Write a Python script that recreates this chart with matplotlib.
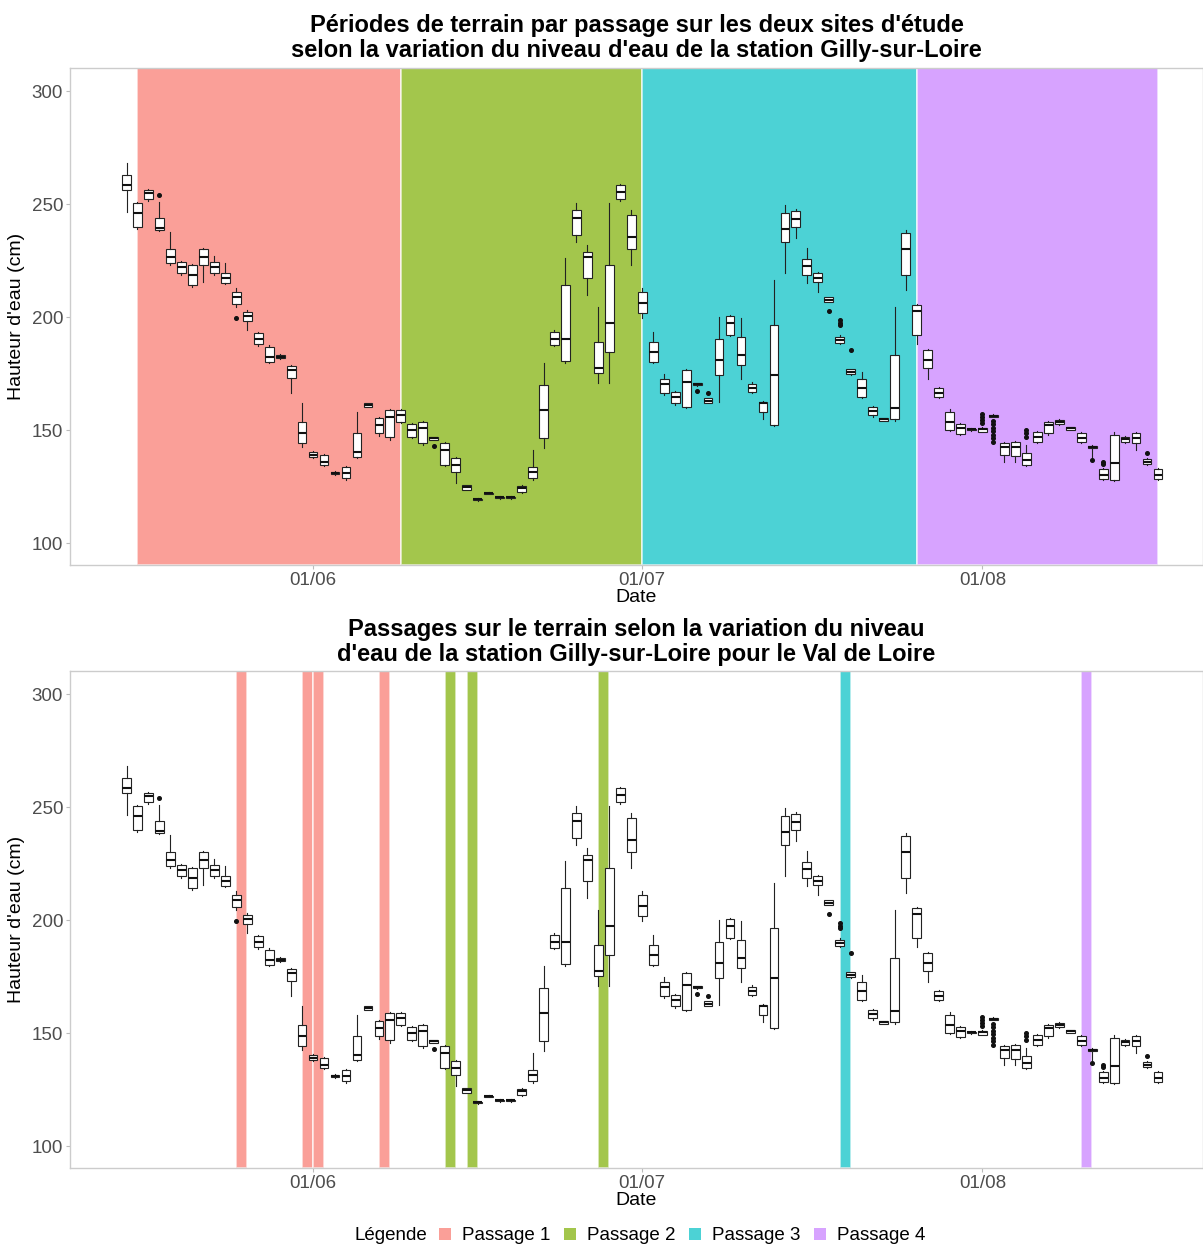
import pandas as pd
import matplotlib
matplotlib.use("Agg")
import matplotlib.pyplot as plt
import matplotlib.dates as mdates
from matplotlib.patches import Patch

plt.rcParams['font.family'] = ['Liberation Sans', 'DejaVu Sans']

# Hauteur d'eau journaliere (cm) a Gilly-sur-Loire, une boite par jour depuis le 15/05
first_day = "2021-05-15"

q1 = [256.2, 240.0, 252.1, 238.5, 223.8, 219.3, 214.2, 223.0, 219.6, 215.2,
      206.0, 198.4, 188.0, 180.2, 181.8, 172.9, 144.1, 137.9, 134.5, 130.5,
      128.6, 138.2, 160.3, 148.5, 147.0, 153.7, 147.0, 144.1, 145.8, 134.5,
      131.6, 123.7, 119.0, 121.7, 119.9, 119.9, 122.7, 128.6, 146.3, 187.6,
      180.7, 236.3, 217.1, 175.1, 184.7, 252.1, 229.9, 201.6, 180.2, 166.2,
      161.8, 160.3, 169.8, 162.1, 174.3, 192.0, 178.7, 167.0, 158.1, 152.2,
      233.3, 240.0, 218.6, 215.6, 206.8, 188.5, 174.8, 164.7, 156.6, 154.0,
      154.7, 218.6, 192.0, 177.3, 164.8, 150.0, 148.2, 150.0, 149.3, 156.0,
      138.9, 138.5, 134.5, 144.8, 148.5, 152.7, 150.2, 144.8, 142.2, 128.2,
      127.9, 144.8, 144.1, 135.0, 128.2]
med = [258.4, 245.9, 254.7, 239.5, 226.7, 222.0, 218.6, 226.4, 222.3, 217.1,
       209.0, 200.6, 190.3, 182.5, 182.5, 176.6, 148.5, 139.0, 136.0, 131.0,
       131.1, 140.4, 161.0, 152.2, 155.9, 156.6, 150.0, 150.7, 146.3, 141.2,
       134.5, 124.6, 119.3, 122.0, 120.2, 120.2, 124.2, 131.6, 158.9, 190.1,
       190.1, 243.7, 226.7, 177.3, 197.2, 255.5, 235.3, 206.3, 184.7, 170.6,
       164.7, 171.4, 170.3, 163.0, 181.0, 197.2, 183.2, 168.4, 161.8, 174.3,
       238.8, 243.2, 222.5, 217.5, 207.7, 190.0, 175.8, 168.4, 158.5, 154.7,
       159.9, 229.9, 202.6, 181.0, 166.5, 153.7, 150.7, 150.3, 150.3, 156.3,
       142.6, 142.6, 136.7, 147.0, 152.2, 153.5, 150.7, 146.3, 142.6, 130.1,
       135.3, 145.9, 146.3, 136.0, 130.1]
q3 = [262.8, 250.6, 256.2, 243.7, 229.9, 224.5, 223.0, 229.9, 224.5, 219.3,
      211.2, 202.4, 192.8, 186.9, 183.2, 178.3, 153.7, 140.4, 138.9, 131.5,
      133.8, 148.5, 161.8, 155.2, 158.9, 158.9, 152.7, 153.7, 146.8, 144.1,
      137.5, 125.5, 119.6, 122.3, 120.5, 120.5, 125.2, 133.8, 169.9, 193.5,
      214.2, 247.3, 228.9, 189.1, 223.0, 258.4, 245.1, 211.2, 189.1, 172.8,
      166.9, 176.5, 170.8, 164.0, 190.1, 200.4, 191.0, 170.6, 162.5, 196.4,
      245.9, 247.0, 225.5, 219.3, 208.7, 191.3, 176.8, 172.8, 160.3, 155.3,
      183.2, 237.0, 205.3, 185.4, 168.4, 158.1, 152.7, 150.6, 150.8, 156.8,
      144.1, 144.8, 139.7, 149.3, 153.7, 154.4, 151.2, 148.5, 143.0, 132.6,
      147.8, 147.0, 148.5, 137.0, 132.6]
whisk_lo = [246.6, 238.8, 251.5, 238.0, 223.0, 218.5, 213.4, 215.6, 218.8, 214.5,
            204.5, 194.2, 187.0, 179.5, 181.5, 166.2, 142.6, 137.5, 134.0, 130.2,
            128.0, 137.5, 160.0, 147.5, 145.6, 153.0, 146.3, 143.5, 145.5, 134.0,
            126.4, 123.4, 118.8, 121.5, 119.7, 119.7, 122.3, 128.0, 141.9, 187.0,
            179.5, 233.3, 209.7, 170.7, 170.7, 251.5, 223.0, 199.5, 179.5, 165.5,
            161.2, 159.8, 169.6, 161.9, 162.5, 191.5, 172.8, 166.5, 155.1, 151.8,
            219.3, 234.8, 215.0, 211.2, 206.5, 188.0, 174.5, 164.0, 156.0, 153.8,
            154.2, 212.0, 188.3, 172.8, 164.2, 149.5, 147.8, 149.8, 149.0, 155.8,
            136.0, 136.0, 134.0, 144.3, 148.0, 152.4, 150.0, 144.3, 138.0, 127.9,
            127.5, 144.5, 141.2, 134.5, 127.8]
whisk_hi = [268.0, 251.0, 256.5, 251.0, 237.8, 225.0, 223.5, 230.5, 227.0, 224.1,
            212.8, 203.0, 193.5, 187.5, 183.5, 179.0, 161.8, 140.8, 139.3, 131.8,
            134.2, 158.1, 162.1, 156.0, 159.5, 159.5, 153.2, 154.2, 147.0, 144.6,
            138.0, 125.8, 119.8, 122.5, 120.7, 120.7, 125.6, 141.2, 179.5, 194.2,
            226.0, 250.3, 231.9, 204.6, 250.3, 259.0, 247.3, 212.8, 193.5, 175.0,
            167.5, 177.2, 171.0, 164.2, 200.1, 201.0, 199.4, 171.2, 163.0, 216.4,
            249.5, 248.0, 230.4, 220.0, 209.0, 192.0, 177.2, 175.5, 160.8, 155.5,
            204.6, 238.5, 206.0, 186.0, 169.0, 159.5, 153.2, 150.8, 151.2, 157.0,
            144.6, 145.3, 143.5, 149.8, 154.2, 154.7, 151.4, 149.0, 143.2, 133.0,
            149.3, 147.5, 149.0, 137.5, 133.0]

# valeurs isolees (points) par jour
outliers = {
    "2021-05-18": [254.0],
    "2021-05-25": [199.8],
    "2021-06-12": [143.0],
    "2021-07-06": [167.4],
    "2021-07-07": [166.5],
    "2021-07-18": [202.8],
    "2021-07-19": [196.5, 197.5, 198.5],
    "2021-07-20": [185.4],
    "2021-08-01": [153.0, 154.5, 156.0, 157.0],
    "2021-08-02": [144.8, 146.5, 148.0, 149.5, 151.0, 152.5, 154.0],
    "2021-08-05": [147.0, 148.5, 150.0],
    "2021-08-11": [136.7],
    "2021-08-12": [135.2, 136.0],
    "2021-08-16": [139.7],
}

# periodes de terrain (debut, fin, passage)
period_start = ["2021-05-16", "2021-06-09", "2021-07-01", "2021-07-26"]
period_end = ["2021-06-09", "2021-07-01", "2021-07-26", "2021-08-17"]
period_passage = [1, 2, 3, 4]

# jours de passage sur le Val de Loire
visit_days = ["2021-05-25", "2021-05-31", "2021-06-01", "2021-06-07", "2021-06-13",
              "2021-06-15", "2021-06-27", "2021-07-19", "2021-08-10"]
visit_passage = [1, 1, 1, 1, 2, 2, 2, 3, 4]

passage_labels = ["Passage 1", "Passage 2", "Passage 3", "Passage 4"]
passage_colors = ["#F8766D", "#7CAE00", "#00BFC4", "#C77CFF"]
band_alpha = 0.7

W, H = 1203, 1248


def plotBoxes(ax):
    days = pd.date_range(first_day, periods=len(med), freq="D")
    stats = []
    for i, d in enumerate(days):
        stats.append(dict(med=med[i], q1=q1[i], q3=q3[i],
                          whislo=whisk_lo[i], whishi=whisk_hi[i],
                          fliers=outliers.get(d.strftime("%Y-%m-%d"), [])))
    ax.bxp(stats, positions=mdates.date2num(days), widths=0.8,
           patch_artist=True, showcaps=False, manage_ticks=False,
           boxprops=dict(facecolor="white", edgecolor="#222222", linewidth=0.8),
           medianprops=dict(color="#111111", linewidth=1.5),
           whiskerprops=dict(color="#222222", linewidth=0.8),
           flierprops=dict(marker="o", markersize=2.6, markerfacecolor="#111111",
                           markeredgecolor="#111111"),
           zorder=3)


def plotPeriods(ax):
    for s, e, p in zip(period_start, period_end, period_passage):
        x0 = mdates.date2num(pd.Timestamp(s))
        x1 = mdates.date2num(pd.Timestamp(e))
        ax.axvspan(x0, x1, color=passage_colors[p - 1], alpha=band_alpha,
                   ec="white", lw=1.2, zorder=1)


def plotVisits(ax):
    for d, p in zip(visit_days, visit_passage):
        x0 = mdates.date2num(pd.Timestamp(d))
        ax.axvspan(x0, x0 + 1, color=passage_colors[p - 1], alpha=band_alpha,
                   ec="white", lw=1.2, zorder=1)


def styleAxes(ax, title, title_pad):
    jun1 = mdates.date2num(pd.Timestamp("2021-06-01"))
    ax.set_xlim(jun1 - 22.15, jun1 + 81.1)
    ax.set_ylim(90.3, 310.2)
    ax.set_yticks([100, 150, 200, 250, 300])
    ax.set_xticks(mdates.date2num(pd.to_datetime(["2021-06-01", "2021-07-01", "2021-08-01"])))
    ax.xaxis.set_major_formatter(mdates.DateFormatter("%d/%m"))
    ax.set_xlabel("Date", fontsize=14, labelpad=0)
    ax.set_ylabel("Hauteur d'eau (cm)", fontsize=14, labelpad=5)
    ax.set_title(title, fontsize=17, fontweight="bold", pad=title_pad, linespacing=1.12)
    ax.tick_params(colors="#4D4D4D", labelsize=13.5, length=3, width=0.8,
                   color="#BBBBBB", pad=2)
    for sp in ax.spines.values():
        sp.set_color("#CCCCCC")
        sp.set_linewidth(1.0)


fig = plt.figure(figsize=(W / 100, H / 100), dpi=100)

top = fig.add_axes([70 / W, 1 - 565 / H, 1 - 70 / W, 497 / H])
plotPeriods(top)
plotBoxes(top)
styleAxes(top, "Périodes de terrain par passage sur les deux sites d'étude\n"
               "selon la variation du niveau d'eau de la station Gilly-sur-Loire", 8)

bottom = fig.add_axes([70 / W, 1 - 1168 / H, 1 - 70 / W, 497 / H])
plotVisits(bottom)
plotBoxes(bottom)
styleAxes(bottom, "Passages sur le terrain selon la variation du niveau\n"
                  "d'eau de la station Gilly-sur-Loire pour le Val de Loire", 7)

# legende commune en bas
fig.text(355 / W, 1 - 1236 / H, "Légende", fontsize=13.5, va="center", ha="left")
handles = [Patch(facecolor=c, alpha=band_alpha, edgecolor="none") for c in passage_colors]
fig.legend(handles, passage_labels, ncol=4, loc="center left",
           bbox_to_anchor=(439 / W, 1 - 1236 / H), frameon=False, fontsize=13.5,
           handlelength=0.65, handleheight=0.65, handletextpad=0.6,
           columnspacing=0.7, borderaxespad=0, borderpad=0)

fig.savefig("out.png", dpi=100)
